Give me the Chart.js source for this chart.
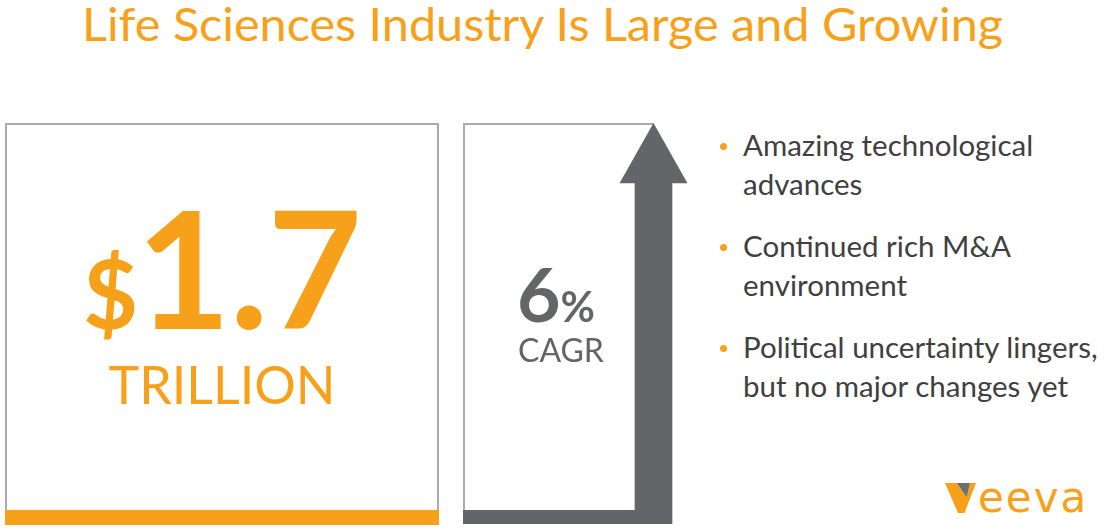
<!DOCTYPE html>
<html>
<head>
<meta charset="utf-8">
<script src="https://cdn.jsdelivr.net/npm/chart.js@4.4.1/dist/chart.umd.min.js"></script>
<style>
  html, body { margin: 0; padding: 0; background: #fff; }
  body { width: 1107px; height: 529px; position: relative; overflow: hidden; font-family: 'Lato', sans-serif; }
  .abs { position: absolute; white-space: nowrap; line-height: 1; }
  #title { left: 82px; top: 0px; font-size: 47px; color: #F7A11A; transform-origin: 0 0; }
  #boxLeft { left: 5px; top: 123px; width: 434px; height: 401px; box-sizing: border-box; border: 2px solid #A9ABAE; }
  #barLeft { left: 5px; top: 510px; width: 434px; height: 15px; background: #F7A11A; }
  #big { left: 5px; top: 200.7px; width: 434px; line-height: 0.8; text-align: center; color: #F7A11A; font-weight: 700; font-size: 163px; letter-spacing: -1px; }
  #big .cur { font-size: 95px; letter-spacing: 0; margin-right: -2px; }
  #unit { left: 5px; top: 357.9px; width: 434px; text-align: center; color: #F7A11A; font-size: 52px; }
  #boxMid { left: 463px; top: 123px; width: 191px; height: 395px; box-sizing: border-box; border-left: 2px solid #A9ABAE; border-top: 2px solid #A9ABAE; }
  #arrowWrap { left: 455px; top: 115px; width: 240px; height: 414px; }
  #pct { left: 517px; top: 263px; line-height: 0.8; color: #646569; font-weight: 700; font-size: 75px; }
  #pct .sign { font-size: 42px; }
  #cagr { left: 518px; top: 333.6px; color: #646569; font-size: 32px; }
  #bullets { left: 743px; top: 125.1px; margin: 0; padding: 0; list-style: none; color: #404041; font-size: 29.5px; line-height: 39px; }
  #bullets li { position: relative; margin: 0 0 23px 0; white-space: nowrap; }
  #bullets li::before { content: ''; position: absolute; left: -23px; top: 18.4px; width: 7px; height: 7px; border-radius: 50%; background: #F7A11A; }
  #logo { left: 945px; top: 483px; width: 160px; height: 40px; }
  #logoV { position: absolute; left: 0; top: 0; width: 31px; height: 30px; background: #F7A11A;
           clip-path: polygon(0 0, 11.7px 0, 21.7px 14.3px, 25px 0, 31px 0, 19.5px 30px, 13px 30px); }
  #logoTri { position: absolute; left: 0; top: 0; width: 31px; height: 30px; background: #6D6E71;
           clip-path: polygon(11.7px 0, 25px 0, 21.7px 14.3px); }
  #logoText { position: absolute; left: 33px; top: -9.7px; font-family: 'DejaVu Sans', sans-serif; font-size: 42px; line-height: 1.2; color: #F7A11A; letter-spacing: 2px; }
</style>
</head>
<body>
<div id="title" class="abs"></div>

<div id="boxLeft" class="abs"></div>
<div id="barLeft" class="abs"></div>
<div id="big" class="abs"></div>
<div id="unit" class="abs"></div>

<div id="boxMid" class="abs"></div>
<div id="arrowWrap" class="abs"><canvas id="arrow" width="240" height="414"></canvas></div>
<div id="pct" class="abs"></div>
<div id="cagr" class="abs"></div>

<ul id="bullets" class="abs"></ul>

<div id="logo" class="abs">
  <div id="logoV"></div>
  <div id="logoTri"></div>
  <div id="logoText">eeva</div>
</div>

<script>
// ── Dados do slide ─────────────────────────────────────────────
const TITLE        = "Life Sciences Industry Is Large and Growing";
const MARKET_SIZE  = [1.7];          // US$ trilhões
const MARKET_UNIT  = ["TRILLION"];
const GROWTH_LABEL = ["CAGR"];
const GROWTH_PCT   = [6];            // % ao ano
// cada item já quebrado nas linhas do slide original
const DRIVERS = [
  ["Amazing technological", "advances"],
  ["Continued rich M&A", "environment"],
  ["Political uncertainty lingers,", "but no major changes yet"],
];

const ORANGE = "#F7A11A";
const GREY   = "#646569";

// ── Textos ─────────────────────────────────────────────────────
document.getElementById("title").textContent = TITLE;
document.getElementById("big").innerHTML = `<span class="cur">$</span>${MARKET_SIZE[0].toFixed(1)}`;
document.getElementById("unit").textContent = MARKET_UNIT[0];
document.getElementById("pct").innerHTML = `${GROWTH_PCT[0]}<span class="sign">%</span>`;
document.getElementById("cagr").textContent = GROWTH_LABEL[0];

const ul = document.getElementById("bullets");
DRIVERS.forEach((lines) => {
  const li = document.createElement("li");
  lines.forEach((s, i) => {
    if (i) li.appendChild(document.createElement("br"));
    li.appendChild(document.createTextNode(s));
  });
  ul.appendChild(li);
});

// ── Seta de crescimento: a haste é a barra do Chart.js ─────────
const arrowPlugin = {
  id: "arrowPlugin",
  afterDatasetsDraw(chart, args, opts) {
    const ctx = chart.ctx;
    const bar = chart.getDatasetMeta(0).data[0];
    const top = chart.chartArea.top;
    ctx.save();
    ctx.fillStyle = opts.color;
    // ponta da seta
    ctx.beginPath();
    ctx.moveTo(bar.x - opts.headHalf, bar.y);
    ctx.lineTo(bar.x + opts.headHalf, bar.y);
    ctx.lineTo(bar.x, top);
    ctx.closePath();
    ctx.fill();
    // base horizontal
    ctx.fillRect(opts.baseFrom, bar.base - opts.baseThick, bar.x - bar.width / 2 - opts.baseFrom, opts.baseThick);
    ctx.restore();
  },
};

new Chart(document.getElementById("arrow"), {
  type: "bar",
  data: {
    labels: GROWTH_LABEL,
    datasets: [{ data: GROWTH_PCT, backgroundColor: GREY, borderWidth: 0, barThickness: 37 }],
  },
  options: {
    responsive: false,
    animation: false,
    events: [],
    layout: { padding: { left: 157, right: 0, top: 8, bottom: 5 } },
    plugins: {
      legend: { display: false },
      tooltip: { enabled: false },
      arrowPlugin: { color: GREY, headHalf: 34, baseFrom: 8, baseThick: 14 },
    },
    scales: {
      x: { display: false },
      y: { display: false, min: 0, max: GROWTH_PCT[0] / 0.85 },
    },
  },
  plugins: [arrowPlugin],
});

// ajusta a largura do título ao slide original (L em x=82, g em x=1003)
function fitTitle() {
  const t = document.getElementById("title");
  t.style.transform = "";
  const w = t.getBoundingClientRect().width;
  t.style.transform = `scaleX(${921 / w})`;
}
fitTitle();
document.fonts.ready.then(fitTitle);
</script>
</body>
</html>
